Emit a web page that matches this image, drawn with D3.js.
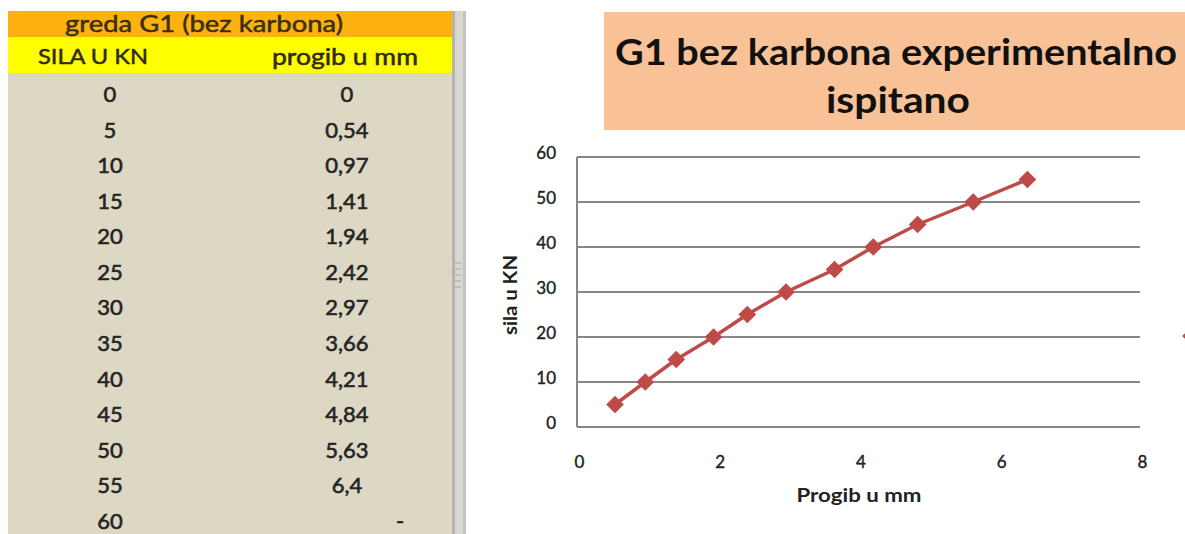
<!DOCTYPE html>
<html>
<head>
<meta charset="utf-8">
<script src="https://cdn.jsdelivr.net/npm/d3@7"></script>
<style>
  html, body { margin: 0; padding: 0; background: #ffffff; }
  svg { display: block; }
</style>
</head>
<body>
<svg id="sheet" width="1185" height="534"></svg>
<script>
// Measured load steps and deflection for beam G1 (no carbon)
const forceKN = [0, 5, 10, 15, 20, 25, 30, 35, 40, 45, 50, 55, 60];
const deflectionMm = [0, 0.54, 0.97, 1.41, 1.94, 2.42, 2.97, 3.66, 4.21, 4.84, 5.63, 6.4, null];
// Rows drawn on the chart (load steps 5..55 kN)
const plottedRows = [1, 2, 3, 4, 5, 6, 7, 8, 9, 10, 11];

const tableTitle = "greda G1 (bez karbona)";
const columnHeaders = ["SILA U KN", "progib u mm"];
const chartTitle = ["G1 bez karbona  experimentalno", "ispitano"];
const xTicks = [0, 2, 4, 6, 8];
const yTicks = [0, 10, 20, 30, 40, 50, 60];
const xAxisTitle = "Progib u mm";
const yAxisTitle = "sila u KN";

const FONT = "Lato, 'Open Sans', 'DejaVu Sans', sans-serif";
const svg = d3.select("#sheet");

// text helper; optional width squeezes the run to a fixed length
function label(g, x, y, txt, size, opts = {}) {
  const t = g.append("text").attr("x", x).attr("y", y).attr("dy", "0.36em")
    .attr("text-anchor", opts.anchor || "middle").attr("font-family", FONT)
    .attr("font-size", size).attr("font-weight", opts.weight || 400)
    .attr("fill", opts.fill || "#222").text(txt);
  if (opts.width) t.attr("textLength", opts.width).attr("lengthAdjust", "spacingAndGlyphs");
  if (opts.transform) t.attr("transform", opts.transform);
  if (opts.stroke) t.attr("stroke", opts.fill || "#222").attr("stroke-width", opts.stroke);
  return t;
}

// ---------- spreadsheet table ----------
const table = svg.append("g");
table.append("rect").attr("x", 8).attr("y", 11).attr("width", 447).attr("height", 26).attr("fill", "#FDB20F");
table.append("rect").attr("x", 8).attr("y", 37).attr("width", 447).attr("height", 36).attr("fill", "#FEFE00");
table.append("rect").attr("x", 8).attr("y", 73).attr("width", 447).attr("height", 461).attr("fill", "#DDD8C4");

// splitter bar between the table and the chart
table.append("rect").attr("x", 452).attr("y", 11).attr("width", 3).attr("height", 523).attr("fill", "#b4b4b0");
table.append("rect").attr("x", 455).attr("y", 11).attr("width", 8).attr("height", 523).attr("fill", "#d9d7cf");
table.append("rect").attr("x", 463).attr("y", 11).attr("width", 3).attr("height", 523).attr("fill", "#c2c2c2");
[262, 268, 274, 280, 286].forEach(y =>
  table.append("rect").attr("x", 455).attr("y", y).attr("width", 6).attr("height", 2).attr("fill", "#bdbdbd"));

const col1 = 110, col2 = 347;
label(table, 204, 23, tableTitle, 24, { fill: "#3b2f10", width: 278, stroke: 0.5 });
label(table, 93, 56, columnHeaders[0], 22, { fill: "#2e2a10", width: 110, stroke: 0.5 });
label(table, 345, 57, columnHeaders[1], 23, { fill: "#2e2a10", width: 146, stroke: 0.5 });

const rowY = d3.scaleLinear().domain([0, forceKN.length - 1]).range([94, 521]);
const fmt = v => v === null ? "-" : String(v).replace(".", ",");
forceKN.forEach((f, i) => {
  label(table, col1, rowY(i), f, 22, { fill: "#242424", stroke: 0.6 });
  const d = deflectionMm[i];
  label(table, d === null ? 400 : col2, rowY(i), fmt(d), 22, { fill: "#242424", stroke: 0.6 });
});

// ---------- chart ----------
const chart = svg.append("g");
chart.append("path")
  .attr("d", "M466,534 L466,18 Q466,10 474,10 L1185,10 L1185,534 Z")
  .attr("fill", "#ffffff");

// title box
chart.append("rect").attr("x", 604).attr("y", 12).attr("width", 581).attr("height", 118).attr("fill", "#F8C196");
label(chart, 896, 52, chartTitle[0], 36, { weight: 700, fill: "#111", width: 562 });
label(chart, 898, 100, chartTitle[1], 36, { weight: 700, fill: "#111", width: 144 });

const x = d3.scaleLinear().domain([0, 8]).range([577, 1140]);
const y = d3.scaleLinear().domain([0, 60]).range([427, 157]);

// horizontal gridlines
chart.append("g").selectAll("line").data(yTicks).join("line")
  .attr("x1", x(0)).attr("x2", x(8)).attr("y1", d => y(d)).attr("y2", d => y(d))
  .attr("stroke", "#878787").attr("stroke-width", 2);
// vertical axis line
chart.append("line").attr("x1", x(0)).attr("x2", x(0)).attr("y1", y(60)).attr("y2", y(0))
  .attr("stroke", "#878787").attr("stroke-width", 2);

// y tick labels
const yAxis = d3.axisLeft(y).tickValues(yTicks).tickSize(0).tickPadding(21);
const gy = chart.append("g").attr("transform", `translate(${x(0)},0)`).call(yAxis);
gy.select(".domain").remove();
gy.selectAll("text").attr("font-family", FONT).attr("font-size", 17).attr("fill", "#222")
  .attr("stroke", "#222").attr("stroke-width", 0.4).attr("dy", "0.1em");

// x tick labels
const xAxis = d3.axisBottom(x).tickValues(xTicks).tickSize(0).tickPadding(29);
const gx = chart.append("g").attr("transform", `translate(0,${y(0)})`).call(xAxis);
gx.select(".domain").remove();
gx.selectAll("text").attr("font-family", FONT).attr("font-size", 17).attr("fill", "#222")
  .attr("stroke", "#222").attr("stroke-width", 0.4).attr("dx", 2);

// axis titles
label(chart, 859, 495, xAxisTitle, 19, { weight: 700, width: 125 });
label(chart, 0, 0, yAxisTitle, 19, { weight: 700, width: 80, transform: "translate(510,295) rotate(-90)" });

// data series
const pts = plottedRows.map(i => ({ x: deflectionMm[i], y: forceKN[i] }));
const red = "#BF4B48";
chart.append("path").datum(pts)
  .attr("d", d3.line().x(d => x(d.x)).y(d => y(d.y)))
  .attr("fill", "none").attr("stroke", red).attr("stroke-width", 3.5).attr("stroke-linejoin", "round");
const diamond = d3.symbol().type(d3.symbolDiamond2).size(200);
chart.append("g").selectAll("path").data(pts).join("path")
  .attr("transform", d => `translate(${x(d.x)},${y(d.y)})`)
  .attr("d", diamond).attr("fill", red);

// legend marker, clipped at the right edge
chart.append("path").attr("transform", "translate(1187,336)")
  .attr("d", d3.symbol().type(d3.symbolDiamond2).size(60)).attr("fill", red);
</script>
</body>
</html>
